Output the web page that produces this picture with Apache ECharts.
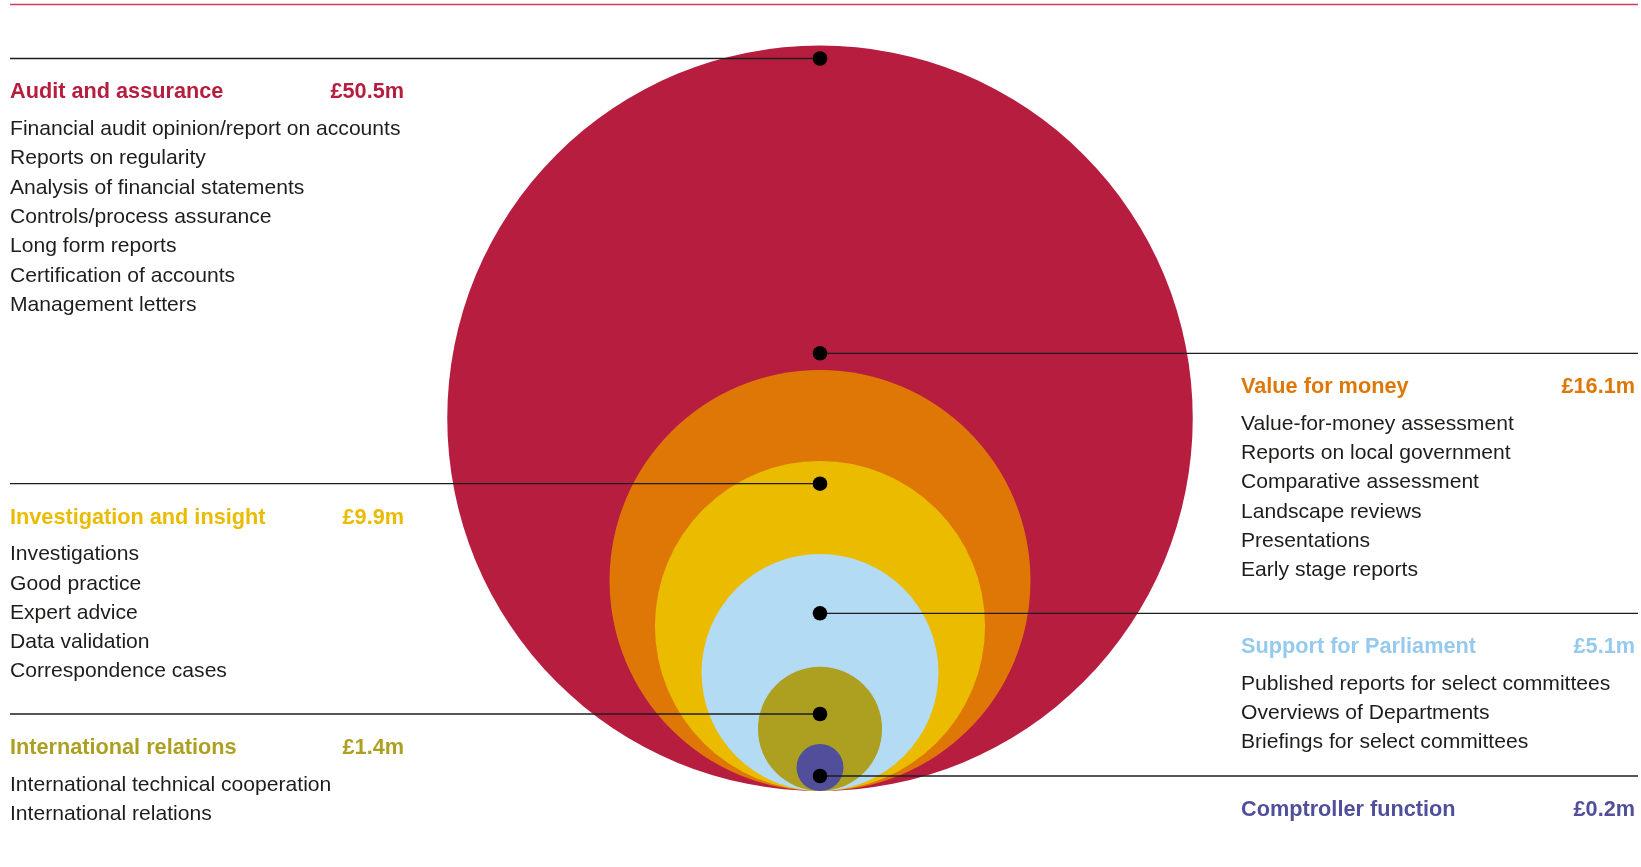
<!DOCTYPE html>
<html>
<head>
<meta charset="utf-8">
<script src="https://cdn.jsdelivr.net/npm/echarts@6/dist/echarts.min.js"></script>
<style>
html,body{margin:0;padding:0;background:#ffffff;}
#c{width:1641px;height:867px;}
</style>
</head>
<body>
<div id="c"></div>
<script>
// ---- data ----
const categories = ['Audit and assurance', 'Value for money', 'Investigation and insight', 'Support for Parliament', 'International relations', 'Comptroller function'];
const values = [50.5, 16.1, 9.9, 5.1, 1.4, 0.2];           // £m
const amountLabels = ['£50.5m', '£16.1m', '£9.9m', '£5.1m', '£1.4m', '£0.2m'];
const auditItems = ['Financial audit opinion/report on accounts', 'Reports on regularity', 'Analysis of financial statements', 'Controls/process assurance', 'Long form reports', 'Certification of accounts', 'Management letters'];
const vfmItems = ['Value-for-money assessment', 'Reports on local government', 'Comparative assessment', 'Landscape reviews', 'Presentations', 'Early stage reports'];
const investigationItems = ['Investigations', 'Good practice', 'Expert advice', 'Data validation', 'Correspondence cases'];
const parliamentItems = ['Published reports for select committees', 'Overviews of Departments', 'Briefings for select committees'];
const internationalItems = ['International technical cooperation', 'International relations'];
const comptrollerItems = [];
const activities = [auditItems, vfmItems, investigationItems, parliamentItems, internationalItems, comptrollerItems];

// ---- styles / layout ----
const fillColors = ['#B71D3F', '#DF7707', '#EBBB00', '#B3DBF4', '#AD9F20', '#514F9B'];
const headColors = ['#B71D3F', '#DF7707', '#EBBB00', '#95CAEE', '#AD9F20', '#514F9B'];
const annotationLayout = [
  { side: 'left',  lineY: 58.5 },
  { side: 'right', lineY: 353.3 },
  { side: 'left',  lineY: 483.7 },
  { side: 'right', lineY: 613.3 },
  { side: 'left',  lineY: 714 },
  { side: 'right', lineY: 776 }
];
const FONT = '"Liberation Sans", Arial, Helvetica, sans-serif';

const maxRoot = Math.sqrt(Math.max.apply(null, values));
// circles: area proportional to value, all tangent at the bottom point (0,0)
const circleData = values.map((v, i) => [0, Math.sqrt(v), i]);

const chart = echarts.init(document.getElementById('c'), null, { renderer: 'canvas' });
chart.setOption({
  animation: false,
  backgroundColor: '#ffffff',
  grid: { left: 447, top: 45.5, width: 746, height: 745.5 },
  xAxis: { type: 'value', min: -maxRoot, max: maxRoot, show: false },
  yAxis: { type: 'value', min: 0, max: 2 * maxRoot, show: false },
  series: [{
    type: 'custom',
    coordinateSystem: 'cartesian2d',
    data: circleData,
    encode: { x: 0, y: 1 },
    silent: true,
    renderItem: function (params, api) {
      const s = api.value(1);
      const c = api.coord([0, s]);
      const r = api.size([0, s])[1];
      return {
        type: 'circle',
        shape: { cx: c[0], cy: c[1], r: r },
        style: { fill: fillColors[api.value(2)] }
      };
    }
  }]
});

const cx = chart.convertToPixel({ gridIndex: 0 }, [0, 0])[0];
const elements = [];
// top rule
elements.push({ type: 'line', z: 100, shape: { x1: 10, y1: 4.5, x2: 1638, y2: 4.5 }, style: { stroke: '#CF3F5C', lineWidth: 1.3 } });

categories.forEach((name, i) => {
  const L = annotationLayout[i];
  const left = L.side === 'left';
  const y0 = L.lineY;
  elements.push({ type: 'line', z: 100, shape: { x1: left ? 10 : cx, y1: y0, x2: left ? cx : 1638, y2: y0 }, style: { stroke: '#1E1E1E', lineWidth: 1.3 } });
  elements.push({ type: 'circle', z: 101, shape: { cx: cx, cy: y0, r: 7.3 }, style: { fill: '#000000' } });
  const tx = left ? 10 : 1241;
  const ax = left ? 404 : 1635;
  const hy = y0 + 34;
  elements.push({ type: 'text', z: 102, x: tx, y: hy, style: { text: name, fill: headColors[i], fontFamily: FONT, fontSize: 21.7, fontWeight: 'bold', align: 'left', verticalAlign: 'middle' } });
  elements.push({ type: 'text', z: 102, x: ax, y: hy, style: { text: amountLabels[i], fill: headColors[i], fontFamily: FONT, fontSize: 21.7, fontWeight: 'bold', align: 'right', verticalAlign: 'middle' } });
  activities[i].forEach((t, k) => {
    elements.push({ type: 'text', z: 102, x: tx, y: hy + 36.7 + k * 29.3, style: { text: t, fill: '#1D1D1B', fontFamily: FONT, fontSize: 21.1, align: 'left', verticalAlign: 'middle' } });
  });
});

chart.setOption({ graphic: { elements: elements } });
</script>
</body>
</html>
